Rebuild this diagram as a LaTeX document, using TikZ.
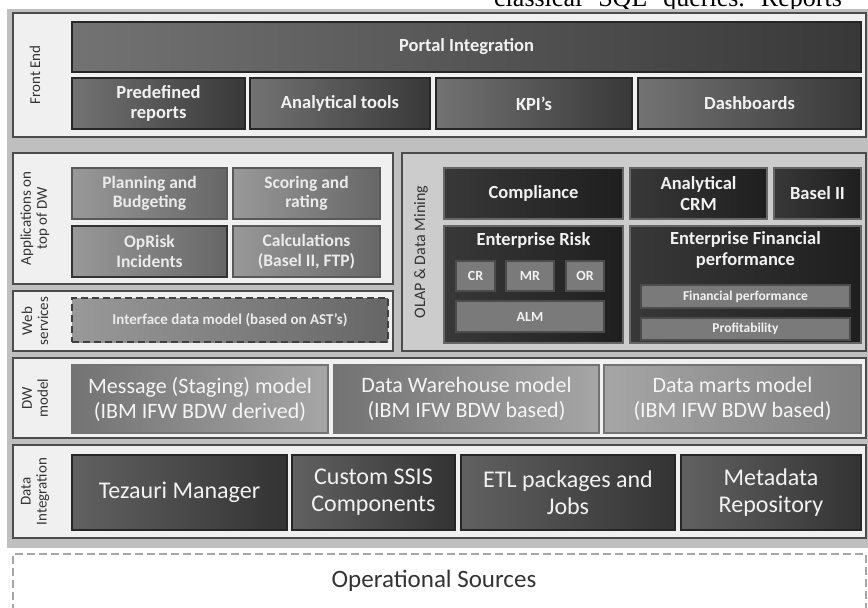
\documentclass[tikz,border=0pt]{standalone}
\usepackage{fontspec}
\setmainfont{Carlito}
\newfontfamily\pageserif{Liberation Serif}

\begin{document}
\begin{tikzpicture}[x=1pt,y=-1pt,
    layer/.style={draw=black!70,line width=2pt,fill=black!6,inner sep=0pt},
    darkbox/.style={draw=black!85,line width=1.2pt,left color=black!55,right color=black!78,
      text=black!5,font=\bfseries\fontsize{18.5}{20.5}\selectfont,align=center,inner sep=0pt},
    appbox/.style={draw=black!65,line width=1.2pt,left color=black!40,right color=black!60,
      text=black!8,font=\bfseries\fontsize{17.5}{19.5}\selectfont,align=center,inner sep=0pt},
    olapbox/.style={draw=black!60,line width=1.2pt,left color=black!78,right color=black!88,
      text=black!5,font=\bfseries\fontsize{18.5}{21}\selectfont,align=center,inner sep=0pt},
    smallbox/.style={draw=black!70,line width=1.2pt,fill=black!52,
      text=black!5,font=\bfseries\fontsize{14}{16}\selectfont,inner sep=0pt},
    dwbox/.style={draw=black!55,line width=1.2pt,left color=black!55,right color=black!35,
      text=black!4,font=\fontsize{22}{25}\selectfont,align=center,inner sep=0pt},
    dibox/.style={draw=black!85,line width=1.2pt,left color=black!62,right color=black!80,
      text=black!5,font=\fontsize{24}{27}\selectfont,align=center,inner sep=0pt},
    sidelabel/.style={rotate=90,text=black!80,font=\fontsize{15}{16}\selectfont,align=center,inner sep=0pt}]

  \useasboundingbox (0,0) rectangle (868,608);
  % page text above the figure
  \node[anchor=base west,font=\pageserif\fontsize{26}{28}\selectfont,inner sep=0pt] (pagetext) at (494,6)
    {classical\hspace{16pt}SQL\hspace{16pt}queries.\hspace{16pt}Reports};
  % grey backing
  \fill[black!25] (7,9) rectangle (868,548);

  % Front End
  \node[layer,minimum width=853pt,minimum height=124pt] (fe) at (439.5,75) {};
  \node[sidelabel] (felbl) at (35,75) {Front End};
  \node[darkbox,minimum width=789pt,minimum height=50pt] (portal) at (466.5,47) {Portal Integration};
  \node[darkbox,minimum width=173pt,minimum height=51pt] (predef) at (158.5,103.5) {Predefined\\reports};
  \node[darkbox,minimum width=180pt,minimum height=51pt] (anatools) at (340,103.5) {Analytical tools};
  \node[darkbox,minimum width=196pt,minimum height=51pt] (kpi) at (534,103.5) {KPI’s};
  \node[darkbox,minimum width=223pt,minimum height=51pt] (dash) at (749.5,103.5) {Dashboards};

  % Applications on top of DW
  \node[layer,minimum width=380pt,minimum height=131pt] (app) at (203,218.5) {};
  \node[sidelabel] (applbl) at (35,218.5) {Applications on\\top of DW};
  \node[appbox,minimum width=155pt,minimum height=51pt] (plan) at (149.5,193.5) {Planning and\\Budgeting};
  \node[appbox,minimum width=147pt,minimum height=51pt] (scoring) at (306.5,193.5) {Scoring and\\rating};
  \node[appbox,draw=black!80,minimum width=155pt,minimum height=51pt] (oprisk) at (149.5,251.5) {OpRisk\\Incidents};
  \node[appbox,minimum width=147pt,minimum height=51pt] (calc) at (306.5,251.5) {Calculations\\(Basel II, FTP)};

  % Web services
  \node[layer,minimum width=380pt,minimum height=60pt] (web) at (203,321) {};
  \node[sidelabel] (weblbl) at (35,321) {Web\\services};
  \node[appbox,draw=black!75,line width=2pt,dash pattern=on 7pt off 4pt,font=\bfseries\fontsize{15}{17}\selectfont,
    minimum width=316pt,minimum height=44pt] (iface) at (230,320) {Interface data model (based on AST’s)};

  % OLAP & Data Mining
  \node[layer,fill=black!20,minimum width=464pt,minimum height=198pt] (olap) at (634,252) {};
  \node[sidelabel,font=\fontsize{16}{17}\selectfont] (olaplbl) at (421,252) {OLAP \& Data Mining};
  \node[olapbox,minimum width=179pt,minimum height=51pt] (compl) at (533.5,193.5) {Compliance};
  \node[olapbox,minimum width=137pt,minimum height=51pt] (acrm) at (698.5,193.5) {Analytical\\CRM};
  \node[olapbox,minimum width=87pt,minimum height=51pt] (basel) at (817.5,193.5) {Basel II};
  \node[olapbox,minimum width=179pt,minimum height=117pt] (erisk) at (533.5,284.5) {};
  \node[olapbox,anchor=north,draw=none,fill=none,shade=none,inner sep=0pt] (erisklbl) at (533.5,232) {Enterprise Risk};
  \node[olapbox,minimum width=231pt,minimum height=117pt] (efin) at (745.5,284.5) {};
  \node[olapbox,anchor=north,draw=none,fill=none,shade=none,inner sep=0pt] (efinlbl) at (745.5,231) {Enterprise Financial\\performance};
  \node[smallbox,minimum width=39pt,minimum height=30pt] (cr) at (475.5,276) {CR};
  \node[smallbox,minimum width=48pt,minimum height=30pt] (mr) at (530,276) {MR};
  \node[smallbox,minimum width=38pt,minimum height=30pt] (or) at (585,276) {OR};
  \node[smallbox,minimum width=148pt,minimum height=31pt] (alm) at (530,316.5) {ALM};
  \node[smallbox,minimum width=209pt,minimum height=23pt,font=\bfseries\fontsize{13.5}{15}\selectfont] (finperf) at (745.5,296.5) {Financial performance};
  \node[smallbox,minimum width=209pt,minimum height=22pt,font=\bfseries\fontsize{13.5}{15}\selectfont] (profit) at (745.5,329) {Profitability};

  % DW model
  \node[layer,minimum width=853pt,minimum height=80pt] (dw) at (439.5,398) {};
  \node[sidelabel] (dwlbl) at (35,398) {DW\\model};
  \node[dwbox,minimum width=256pt,minimum height=68pt] (msg) at (200,399) {Message (Staging) model\\(IBM IFW BDW derived)};
  \node[dwbox,minimum width=265pt,minimum height=68pt] (dwh) at (466.5,399) {Data Warehouse model\\(IBM IFW BDW based)};
  \node[dwbox,left color=black!35,right color=black!50,minimum width=257pt,minimum height=68pt] (dmart) at (732.5,399) {Data marts model\\(IBM IFW BDW based)};

  % Data Integration
  \node[layer,minimum width=853pt,minimum height=93pt] (di) at (439.5,491.5) {};
  \node[sidelabel] (dilbl) at (35,491.5) {Data\\Integration};
  \node[dibox,minimum width=215pt,minimum height=75pt] (tez) at (179.5,492.5) {Tezauri Manager};
  \node[dibox,minimum width=163pt,minimum height=75pt] (ssis) at (373.5,492.5) {Custom SSIS\\Components};
  \node[dibox,minimum width=214pt,minimum height=75pt] (etl) at (568,492.5) {ETL packages and\\Jobs};
  \node[dibox,minimum width=180pt,minimum height=75pt] (meta) at (771,492.5) {Metadata\\Repository};

  % Operational Sources
  \node[draw=black!35,line width=2pt,dash pattern=on 8pt off 4pt,fill=white,minimum width=853pt,minimum height=80pt,inner sep=0pt] (ops) at (439.5,594) {};
  \node[font=\fontsize{25}{28}\selectfont,text=black!80] (opslbl) at (434,581) {Operational Sources};

\end{tikzpicture}
\end{document}
